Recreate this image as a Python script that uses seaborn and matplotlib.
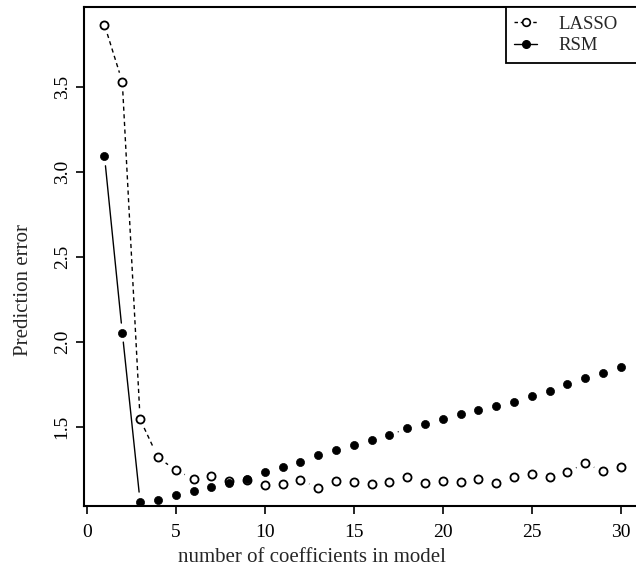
import numpy as np
import matplotlib
matplotlib.use("Agg")
import matplotlib.pyplot as plt
import seaborn as sns
from matplotlib.lines import Line2D

# values
n_coef = list(range(1, 31))
lasso = [3.865, 3.53, 1.545, 1.322, 1.245, 1.196, 1.214, 1.18, 1.188, 1.16,
         1.163, 1.188, 1.141, 1.18, 1.178, 1.163, 1.175, 1.204, 1.169, 1.18,
         1.176, 1.192, 1.169, 1.208, 1.224, 1.208, 1.235, 1.286, 1.239, 1.263]
rsm = [3.092, 2.055, 1.061, 1.069, 1.098, 1.124, 1.149, 1.172, 1.196, 1.234,
       1.263, 1.296, 1.335, 1.363, 1.394, 1.422, 1.451, 1.492, 1.516, 1.549,
       1.576, 1.598, 1.624, 1.649, 1.684, 1.714, 1.751, 1.786, 1.819, 1.851]
x_ticks = [0, 5, 10, 15, 20, 25, 30]
y_ticks = [1.5, 2.0, 2.5, 3.0, 3.5]

sns.set_style("ticks")
plt.rcParams["font.family"] = ["Liberation Serif", "DejaVu Serif"]

W, H = 636, 573
fig = plt.figure(figsize=(W / 100, H / 100), dpi=100)
left, right, top, bottom = 83.85, 641.4, 7, 506
ax = fig.add_axes([left / W, 1 - bottom / H, (right - left) / W, (bottom - top) / H])
ax.set_xlim(-0.16, 31.16)
ax.set_ylim(1.035, 3.97)


def gapped_lines(xs, ys, ls, gap=9.55):
    # like R type="b": segments between points, cut back near each point
    pts = ax.transData.transform(np.column_stack([xs, ys]))
    inv = ax.transData.inverted()
    for p, q in zip(pts[:-1], pts[1:]):
        d = np.hypot(*(q - p))
        if d <= 2 * gap:
            continue
        u = (q - p) / d
        seg = inv.transform(np.array([p + gap * u, q - gap * u]))
        ax.plot(seg[:, 0], seg[:, 1], color="black", lw=1.0, ls=ls,
                dashes=(3, 2.5) if ls == "--" else (None, None))


gapped_lines(n_coef, lasso, "--")
gapped_lines(n_coef, rsm, "-")

sns.scatterplot(x=n_coef, y=lasso, ax=ax, marker="o", s=34, facecolor="white",
                edgecolor="black", linewidth=1.3, zorder=3)
sns.scatterplot(x=n_coef, y=rsm, ax=ax, marker="o", s=34, color="black",
                edgecolor="black", linewidth=0.5, zorder=3)

ax.set_xticks(x_ticks)
ax.set_yticks(y_ticks)
ax.set_yticklabels([f"{v:.1f}" for v in y_ticks], rotation=90, va="center")
ax.tick_params(direction="out", length=6, width=1.2, colors="black", labelsize=14)
ax.tick_params(axis="x", pad=7)
ax.tick_params(axis="y", pad=3.5)
for s in ax.spines.values():
    s.set_linewidth(1.5)
    s.set_color("black")

ax.set_xlabel("number of coefficients in model", fontsize=15)
ax.set_ylabel("Prediction error", fontsize=15)
ax.xaxis.set_label_coords(0.409, -0.084)
ax.yaxis.set_label_coords(-0.092, 0.433)

handles = [
    Line2D([], [], color="black", ls="--", dashes=(2.5, 2), lw=1.0, marker="o",
           ms=5.5, mfc="white", mec="black", mew=1.2),
    Line2D([], [], color="black", ls="-", lw=1.0, marker="o",
           ms=5.5, mfc="black", mec="black"),
]
leg = ax.legend(handles, ["LASSO", "RSM"], loc="upper left",
                bbox_to_anchor=(506 / W, 1 - 63 / H, (650 - 506) / W, 56 / H),
                bbox_transform=fig.transFigure, mode="expand", borderaxespad=0,
                fancybox=False, framealpha=1, edgecolor="black", fontsize=13.5,
                handlelength=1.2, handletextpad=1.15, borderpad=0.45,
                labelspacing=0.25)
leg.get_frame().set_linewidth(1.3)

fig.savefig("out.png", dpi=100)
